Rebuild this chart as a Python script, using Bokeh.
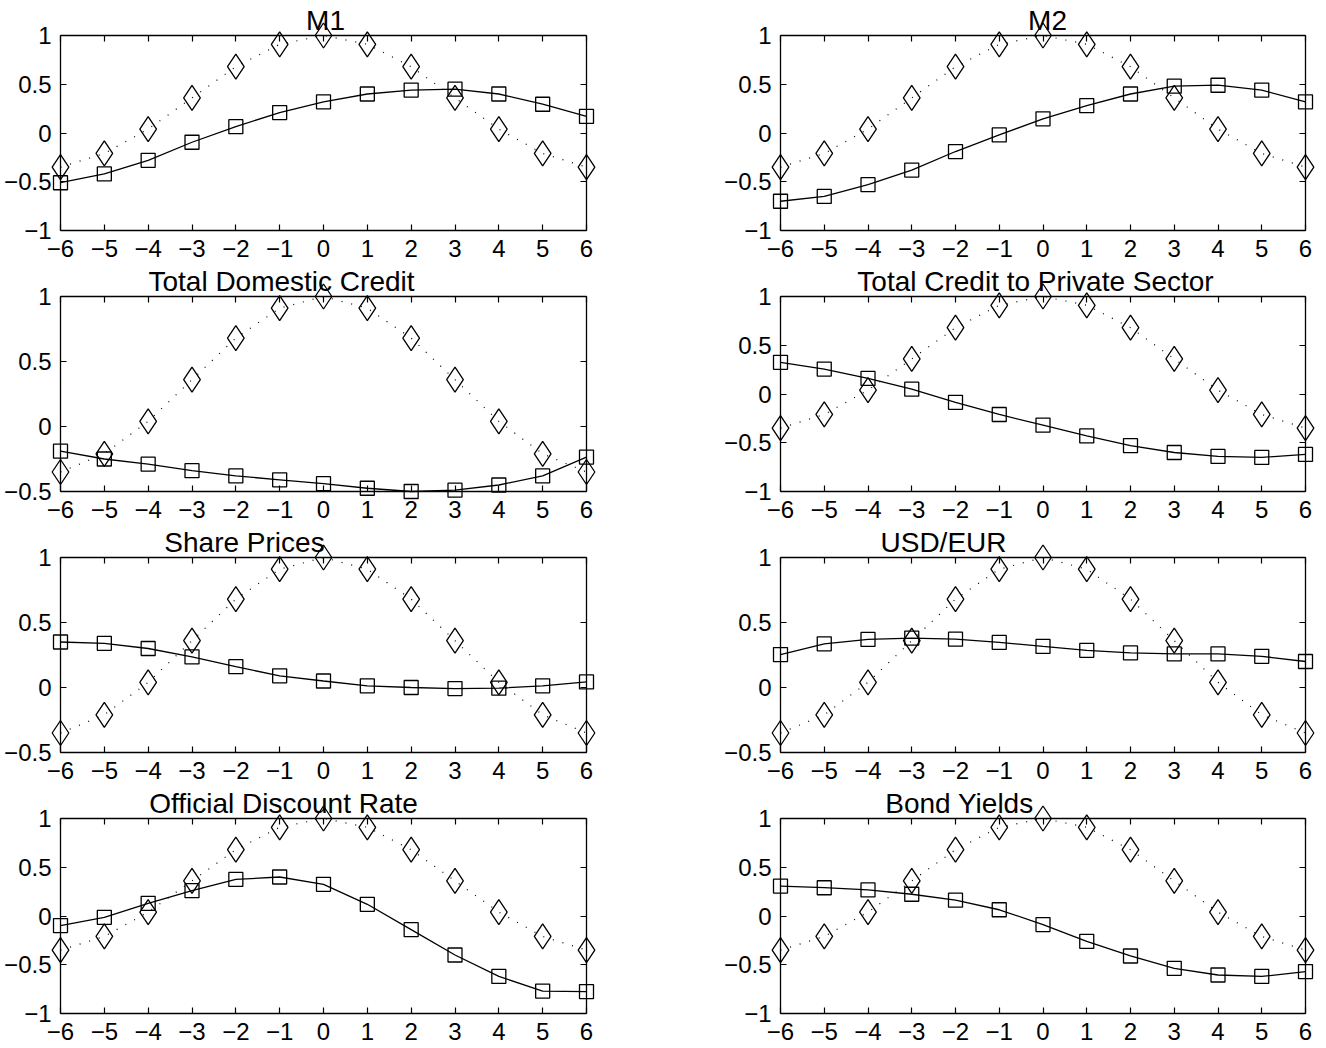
from bokeh.plotting import figure
from bokeh.layouts import column, row
from bokeh.models import LinearAxis, FixedTicker, Label, Range1d
from bokeh.embed import file_html
from bokeh.resources import INLINE

# ---------------- data ----------------
lags = [-6, -5, -4, -3, -2, -1, 0, 1, 2, 3, 4, 5, 6]
x_tick_labels = ["\u22126", "\u22125", "\u22124", "\u22123", "\u22122", "\u22121",
                 "0", "1", "2", "3", "4", "5", "6"]

# reference cycle (dotted, diamonds) - same in every panel
reference = [-0.35, -0.21, 0.04, 0.36, 0.68, 0.91, 1.00, 0.91, 0.68, 0.36, 0.04, -0.21, -0.35]

m1 = [-0.51, -0.42, -0.28, -0.095, 0.065, 0.21, 0.32, 0.40, 0.44, 0.45, 0.40, 0.295, 0.17]
m2 = [-0.70, -0.65, -0.53, -0.38, -0.19, -0.02, 0.145, 0.28, 0.40, 0.48, 0.49, 0.44, 0.32]
total_domestic_credit = [-0.19, -0.25, -0.29, -0.34, -0.38, -0.41, -0.44, -0.475, -0.50, -0.49, -0.45, -0.38, -0.235]
credit_private_sector = [0.325, 0.256, 0.16, 0.05, -0.085, -0.21, -0.32, -0.43, -0.53, -0.60, -0.64, -0.65, -0.62]
share_prices = [0.35, 0.34, 0.30, 0.235, 0.16, 0.09, 0.05, 0.013, 0.0, -0.008, -0.005, 0.013, 0.043]
usd_eur = [0.253, 0.336, 0.37, 0.38, 0.372, 0.347, 0.316, 0.286, 0.266, 0.258, 0.258, 0.24, 0.20]
official_discount_rate = [-0.098, -0.014, 0.13, 0.26, 0.375, 0.40, 0.325, 0.12, -0.14, -0.40, -0.62, -0.77, -0.775]
bond_yields = [0.307, 0.29, 0.267, 0.223, 0.162, 0.064, -0.088, -0.26, -0.41, -0.537, -0.605, -0.62, -0.57]

titles = ["M1", "M2", "Total Domestic Credit", "Total Credit to Private Sector",
          "Share Prices", "USD/EUR", "Official Discount Rate", "Bond Yields"]
series = [m1, m2, total_domestic_credit, credit_private_sector,
          share_prices, usd_eur, official_discount_rate, bond_yields]
y_lows = [-1, -1, -0.5, -1, -0.5, -0.5, -1, -1]

y_ticks_full = [-1, -0.5, 0, 0.5, 1]
y_tick_labels_full = ["\u22121", "\u22120.5", "0", "0.5", "1"]

# ---------------- layout (pixels) ----------------
FONT = "Liberation Sans"
FIG_W = [720, 600]          # figure widths (left column, right column)
ROW_H = [261, 261, 261, 262]
BOX_LEFT = 60               # box position inside each figure
BOX_W = [526, 525]
BOX_TOP = 35
BOX_H = 195
title_center = [265, 267, 221, 255, 184, 163, 223, 179]   # from box left


def style_axis(ax, labels=True):
    ax.major_tick_in = 6
    ax.major_tick_out = 0
    ax.minor_tick_line_color = None
    ax.axis_line_color = "black"
    ax.axis_line_width = 1.3
    ax.major_tick_line_color = "black"
    ax.major_tick_line_width = 1.2
    if labels:
        ax.major_label_text_font = FONT
        ax.major_label_text_font_size = "24px"
        ax.major_label_text_color = "black"
    else:
        ax.major_label_text_color = None


def make_panel(i):
    col = i % 2
    r = i // 2
    W, H = FIG_W[col], ROW_H[r]
    ylo = y_lows[i]
    x0, x1 = lags[0], lags[-1]

    # ranges chosen so that [x0, x1] x [ylo, 1] fills the box; the rest is margin
    kx = BOX_W[col] / (x1 - x0)
    ky = BOX_H / (1 - ylo)
    x_start = x0 - BOX_LEFT / kx
    x_end = x1 + (W - BOX_LEFT - BOX_W[col]) / kx
    y_end = 1 + BOX_TOP / ky
    y_start = ylo - (H - BOX_TOP - BOX_H) / ky

    p = figure(width=W, height=H,
               x_range=Range1d(x_start, x_end), y_range=Range1d(y_start, y_end),
               x_axis_location=None, y_axis_location=None,
               output_backend="svg", toolbar_location=None,
               min_border=0, min_border_left=0, min_border_right=0,
               min_border_top=0, min_border_bottom=0)
    p.grid.visible = False
    p.outline_line_color = None
    p.background_fill_color = "white"
    p.border_fill_color = "white"

    yt = [t for t in y_ticks_full if t >= ylo]
    ytl = {t: l for t, l in zip(y_ticks_full, y_tick_labels_full) if t >= ylo}
    xtl = {t: l for t, l in zip(lags, x_tick_labels)}

    bottom = LinearAxis(ticker=FixedTicker(ticks=lags), fixed_location=ylo, bounds=(x0, x1),
                        major_label_overrides=xtl, major_label_standoff=9)
    left = LinearAxis(ticker=FixedTicker(ticks=yt), fixed_location=x0, bounds=(ylo, 1),
                      major_label_overrides=ytl, major_label_standoff=9)
    top = LinearAxis(ticker=FixedTicker(ticks=lags), fixed_location=1, bounds=(x0, x1))
    right = LinearAxis(ticker=FixedTicker(ticks=yt), fixed_location=x1, bounds=(ylo, 1))
    style_axis(bottom)
    style_axis(left)
    style_axis(top, labels=False)
    style_axis(right, labels=False)
    p.add_layout(bottom, "below")
    p.add_layout(left, "left")
    p.add_layout(top, "above")
    p.add_layout(right, "right")

    # reference cycle: dotted line with diamonds
    p.line(lags, reference, line_color="black", line_width=1.2, line_dash="1 9")
    p.scatter(lags, reference, marker="diamond", size=25, fill_color=None,
              line_color="black", line_width=1.3)
    # series: solid line with squares
    p.line(lags, series[i], line_color="black", line_width=1.3)
    p.scatter(lags, series[i], marker="square", size=14, fill_color=None,
              line_color="black", line_width=1.3)

    p.add_layout(Label(x=BOX_LEFT + title_center[i], y=H - BOX_TOP + 15,
                       x_units="screen", y_units="screen",
                       text=titles[i], text_align="center", text_baseline="middle",
                       text_font=FONT, text_font_size="28px", text_color="black"))
    return p


panels = [make_panel(i) for i in range(8)]
layout = column([row(panels[r * 2], panels[r * 2 + 1], spacing=0) for r in range(4)], spacing=0)

open("out.html", "w").write(file_html(layout, INLINE))
